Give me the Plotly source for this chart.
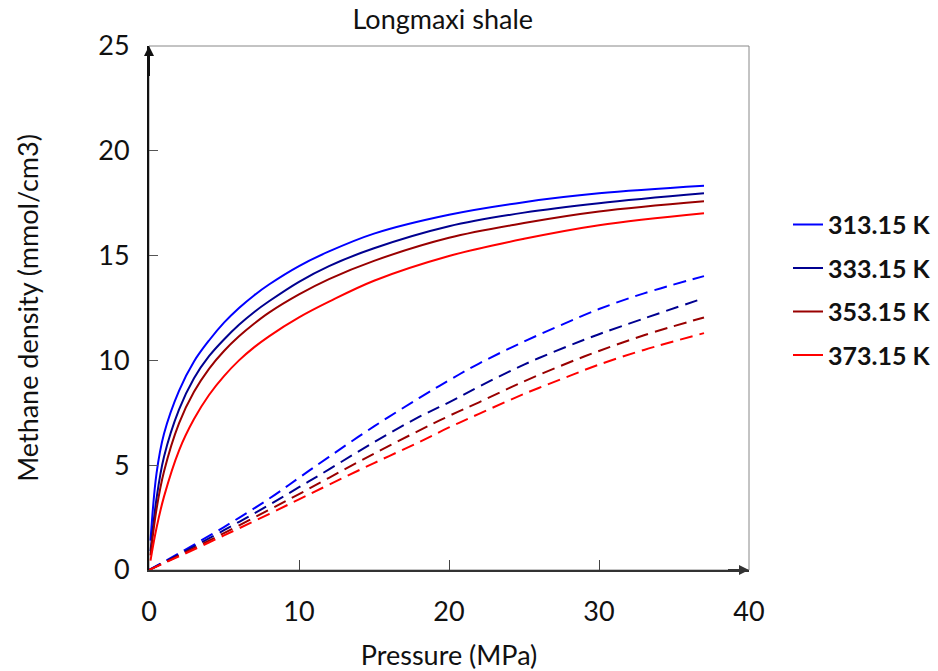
import plotly.graph_objects as go

# ---- data ----
temps = ["313.15 K", "333.15 K", "353.15 K", "373.15 K"]
colors = ["#0000FF", "#000090", "#990000", "#FF0000"]

p_solid = [0.1, 0.5, 1, 2, 3, 4, 5, 6, 7, 8, 10, 12, 15, 20, 25, 30, 37]
solid_313 = [1.4, 4.6, 6.5, 8.55, 9.95, 10.95, 11.8, 12.5, 13.1, 13.62, 14.5, 15.2, 16.05, 16.95, 17.55, 17.97, 18.33]
solid_333 = [0.9, 3.4, 5.4, 7.65, 9.15, 10.2, 11.0, 11.7, 12.3, 12.82, 13.75, 14.5, 15.35, 16.4, 17.05, 17.5, 17.97]
solid_353 = [0.7, 2.9, 4.7, 7.0, 8.5, 9.6, 10.45, 11.15, 11.75, 12.28, 13.15, 13.88, 14.75, 15.85, 16.55, 17.1, 17.59]
solid_373 = [0.45, 2.0, 3.5, 5.7, 7.2, 8.35, 9.25, 10.0, 10.62, 11.15, 12.05, 12.8, 13.8, 14.98, 15.8, 16.45, 17.02]

p_dash = [0, 2, 5, 8, 10, 12, 15, 18, 20, 22, 25, 28, 30, 33, 37]
dash_313 = [0, 0.8, 2.05, 3.4, 4.4, 5.4, 6.85, 8.2, 9.05, 9.85, 10.9, 11.85, 12.45, 13.2, 14.02]
dash_333 = [0, 0.74, 1.9, 3.1, 3.95, 4.8, 6.1, 7.3, 8.0, 8.75, 9.8, 10.7, 11.25, 12.0, 12.97]
dash_353 = [0, 0.69, 1.76, 2.87, 3.62, 4.4, 5.55, 6.65, 7.35, 8.0, 9.0, 9.9, 10.45, 11.2, 12.05]
dash_373 = [0, 0.65, 1.65, 2.67, 3.37, 4.07, 5.1, 6.1, 6.8, 7.45, 8.4, 9.25, 9.8, 10.5, 11.3]

x_ticks = [0, 10, 20, 30, 40]
y_ticks = [0, 5, 10, 15, 20, 25]

solids = [solid_313, solid_333, solid_353, solid_373]
dashes = [dash_313, dash_333, dash_353, dash_373]

FONT = "Lato"

fig = go.Figure()
for name, col, s in zip(temps, colors, solids):
    fig.add_trace(go.Scatter(x=p_solid, y=s, mode="lines", name="<b>" + name + "</b>",
                             line=dict(color=col, width=2, shape="spline"),
                             legendgroup=name))
for name, col, d in zip(temps, colors, dashes):
    fig.add_trace(go.Scatter(x=p_dash, y=d, mode="lines", name=name, showlegend=False,
                             line=dict(color=col, width=2, dash="13px,7px", shape="spline"),
                             legendgroup=name))

fig.update_layout(
    width=938, height=671,
    margin=dict(l=149, r=189, t=46, b=101, autoexpand=False),
    paper_bgcolor="white", plot_bgcolor="white",
    font=dict(family=FONT, size=27, color="#222"),
    title=dict(text="Longmaxi shale", x=0.472, xanchor="center", y=0.971, yanchor="middle",
               font=dict(family=FONT, size=27, color="#111")),
    showlegend=True,
    legend=dict(x=1.065, y=0.703, xanchor="left", yanchor="top",
                font=dict(family=FONT, size=25, color="#111"),
                tracegroupgap=8, itemwidth=30, bgcolor="rgba(0,0,0,0)"),
    xaxis=dict(range=[0, 40], tickvals=x_ticks, showgrid=False, zeroline=False,
               showline=True, linecolor="#333", linewidth=2,
               ticks="inside", ticklen=10, tickcolor="#444", tickwidth=1,
               ticklabelstandoff=17,
               tickfont=dict(family=FONT, size=27, color="#111"),
               title=dict(text="Pressure (MPa)", font=dict(family=FONT, size=27, color="#111"),
                          standoff=22)),
    yaxis=dict(range=[0, 25], tickvals=y_ticks, showgrid=False, zeroline=False,
               showline=True, linecolor="#111", linewidth=2,
               ticks="inside", ticklen=9, tickcolor="#555", tickwidth=1,
               ticklabelstandoff=12,
               tickfont=dict(family=FONT, size=27, color="#111"),
               title=dict(text="Methane density (mmol/cm3)",
                          font=dict(family=FONT, size=27, color="#111"), standoff=52)),
    shapes=[dict(type="rect", xref="paper", yref="paper", x0=0, x1=1, y0=0, y1=1,
                 line=dict(color="#888", width=1), layer="below")],
    annotations=[
        dict(x=0, y=25, ax=0, ay=23.5, xref="x", yref="y", axref="x", ayref="y",
             showarrow=True, arrowhead=2, arrowsize=1, arrowwidth=2, arrowcolor="#111", text=""),
        dict(x=40, y=0, ax=38.5, ay=0, xref="x", yref="y", axref="x", ayref="y",
             showarrow=True, arrowhead=2, arrowsize=1, arrowwidth=2, arrowcolor="#333", text=""),
    ],
)

fig.write_html("out.html")
